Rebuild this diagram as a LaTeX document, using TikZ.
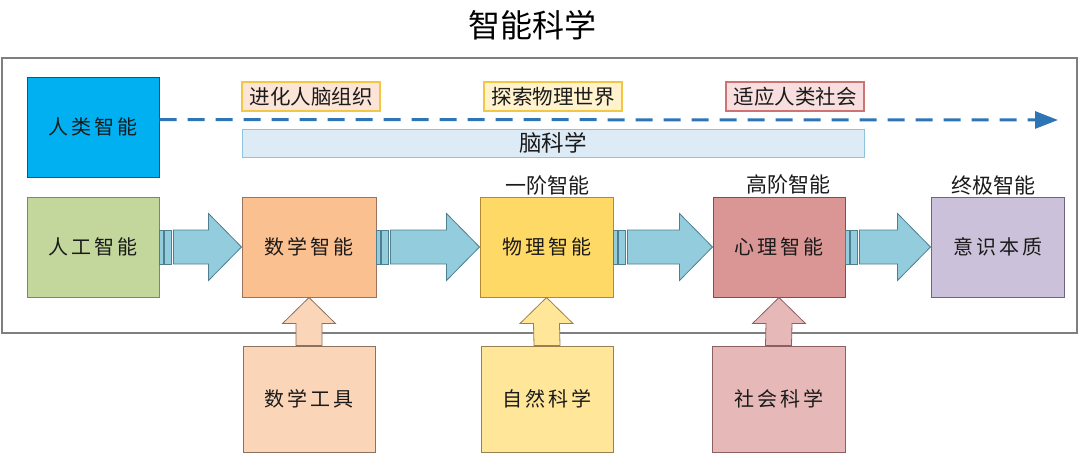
\documentclass[tikz,border=0pt]{standalone}
\usepackage{fontspec}
\usetikzlibrary{arrows.meta,calc}
\newfontfamily\cjk{Noto Sans CJK SC}
\newfontfamily\cjksp[LetterSpace=15]{Noto Sans CJK SC}
\definecolor{frameG}{HTML}{7F7F7F}
\definecolor{humanF}{HTML}{00B0F0}
\definecolor{humanD}{HTML}{1F4E79}
\definecolor{aiF}{HTML}{C3D69B}
\definecolor{aiD}{HTML}{77933C}
\definecolor{mathF}{HTML}{FAC090}
\definecolor{mathD}{HTML}{A0715A}
\definecolor{phyF}{HTML}{FFD966}
\definecolor{phyD}{HTML}{B08A30}
\definecolor{psyF}{HTML}{D99694}
\definecolor{psyD}{HTML}{8B4A48}
\definecolor{conF}{HTML}{CCC1DA}
\definecolor{conD}{HTML}{6E6480}
\definecolor{mtF}{HTML}{FBD5B8}
\definecolor{mtD}{HTML}{8C7060}
\definecolor{nsF}{HTML}{FFE699}
\definecolor{nsD}{HTML}{998050}
\definecolor{ssF}{HTML}{E6B9B8}
\definecolor{ssD}{HTML}{8B6060}
\definecolor{arrF}{HTML}{93CDDD}
\definecolor{arrD}{HTML}{4F7F8F}
\definecolor{dashC}{HTML}{2E75B6}
\definecolor{tagGold}{HTML}{F2C744}
\definecolor{tagPeach}{HTML}{FCE4D6}
\definecolor{tagYellow}{HTML}{FFF2CC}
\definecolor{tagPink}{HTML}{F8DEDE}
\definecolor{tagRed}{HTML}{C0504D}
\definecolor{brainF}{HTML}{DDEBF7}
\definecolor{brainD}{HTML}{8DC3DE}
\definecolor{txt}{HTML}{1A1A1A}
\tikzset{
  box/.style={draw, line width=1pt, minimum height=100pt, inner sep=0pt,
    font=\cjksp\fontsize{20pt}{22pt}\selectfont, text=txt},
  subbox/.style={box, minimum height=106pt},
  tag/.style={draw, line width=1.5pt, minimum width=138pt, minimum height=29pt,
    inner sep=0pt, font=\cjk\fontsize{20.5pt}{22pt}\selectfont, text=txt},
  level/.style={font=\cjk\fontsize{21pt}{23pt}\selectfont, text=txt, inner sep=0pt},
  blk/.style={fill=arrF, draw=arrD, line width=0.8pt, line join=miter},
}
\newcommand\blkarrow[2]{%
  \draw[blk] ($(#1.east)+(0,-17)$) rectangle ($(#1.east)+(4,17)$);
  \draw[blk] ($(#1.east)+(5,-17)$) rectangle ($(#1.east)+(12,17)$);
  \draw[blk] ($(#1.east)+(14,-17)$) -- ($(#2.west)+(-33,-17)$) -- ($(#2.west)+(-33,-33.5)$)
    -- (#2.west) -- ($(#2.west)+(-33,33.5)$) -- ($(#2.west)+(-33,17)$)
    -- ($(#1.east)+(14,17)$) -- cycle;}
\newcommand\uparr[4]{% from, to, fill, draw
  \draw[fill=#3, draw=#4, line width=0.8pt] ($(#1.north)+(-13,0)$) -- ($(#2.south)+(-13,26)$)
    -- ($(#2.south)+(-26.5,26)$) -- (#2.south) -- ($(#2.south)+(26.5,26)$)
    -- ($(#2.south)+(13,26)$) -- ($(#1.north)+(13,0)$) -- cycle;}
\begin{document}
\begin{tikzpicture}[x=1pt,y=-1pt]
\useasboundingbox (0,0) rectangle (1080,453);
% title
\node[font=\cjk\fontsize{32pt}{34pt}\selectfont, text=black, inner sep=0pt] (title) at (532,25) {智能科学};
% outer frame
\draw[frameG, line width=1.5pt] (2,58) rectangle (1077,333);
% top row
\node[box, fill=humanF, draw=humanD, minimum width=132pt] (human) at (93,127) {人类智能};
\node[tag, fill=tagPeach, draw=tagGold] (evo) at (311,96.5) {进化人脑组织};
\node[tag, fill=tagYellow, draw=tagGold] (exp) at (553,96.5) {探索物理世界};
\node[tag, fill=tagPink, draw=tagRed!80] (soc) at (795,96.5) {适应人类社会};
\node[draw=brainD, fill=brainF, line width=1pt, minimum width=622pt, minimum height=28pt,
  inner sep=0pt, font=\cjk\fontsize{22.5pt}{24pt}\selectfont, text=txt] (brain) at (553,143) {脑科学};
\coordinate (dstart) at ($(human.north east)+(0,43)$);
\coordinate (dend) at (1058,120);
\draw[dashC, line width=3pt, dash pattern=on 17pt off 11pt,
  -{Triangle[length=23pt,width=17pt]}] (dstart) -- (dend);
% middle row
\node[box, fill=aiF, draw=aiD, minimum width=132pt] (ai) at (93,247) {人工智能};
\node[box, fill=mathF, draw=mathD, minimum width=134pt] (math) at (309,247) {数学智能};
\node[box, fill=phyF, draw=phyD, minimum width=133pt] (phy) at (546.5,247) {物理智能};
\node[box, fill=psyF, draw=psyD, minimum width=132pt] (psy) at (779,247) {心理智能};
\node[box, fill=conF, draw=conD, minimum width=133pt] (con) at (997.5,247) {意识本质};
\node[level] (l1) at (547,186) {一阶智能};
\node[level] (l2) at (788,185) {高阶智能};
\node[level] (l3) at (993,185) {终极智能};
\blkarrow{ai}{math}
\blkarrow{math}{phy}
\blkarrow{phy}{psy}
\blkarrow{psy}{con}
% bottom row
\node[subbox, fill=mtF, draw=mtD, minimum width=132pt] (mt) at (309,399) {数学工具};
\node[subbox, fill=nsF, draw=nsD, minimum width=132pt] (ns) at (547,399) {自然科学};
\node[subbox, fill=ssF, draw=ssD, minimum width=133pt] (ss) at (778.5,399) {社会科学};
\uparr{mt}{math}{mtF}{mtD}
\uparr{ns}{phy}{nsF}{nsD}
\uparr{ss}{psy}{ssF}{ssD}
\end{tikzpicture}
\end{document}
